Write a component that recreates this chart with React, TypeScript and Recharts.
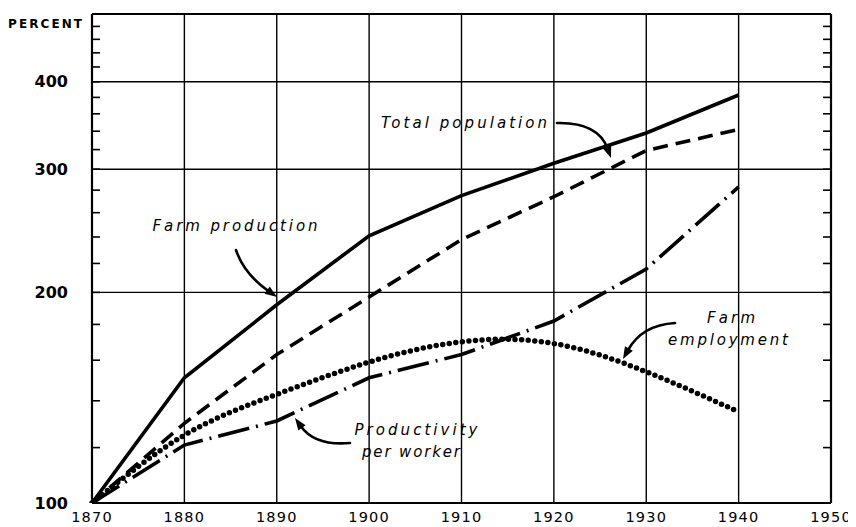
import React from "react";
import { LineChart, Line, XAxis, YAxis, ReferenceLine } from "recharts";

const years = [1870, 1880, 1890, 1900, 1910, 1920, 1930, 1940];
const farmProduction = [100, 151, 192, 241, 275, 306, 338, 383];
const totalPopulation = [100, 130, 163, 197, 238, 274, 319, 342];
const farmEmployment = [100, 125, 143, 159, 170, 169, 154, 135];
const productivity = [100, 121, 131, 151, 163, 182, 216, 283];

const xTicks = [1870, 1880, 1890, 1900, 1910, 1920, 1930, 1940, 1950];
const yMajor = [100, 200, 300, 400];
const yMinor = [100, 120, 140, 160, 180, 200, 220, 240, 260, 280, 300, 320, 340, 360, 380, 400, 420, 440, 460, 480, 500];

const data = years.map((year, i) => ({
  year,
  production: farmProduction[i],
  population: totalPopulation[i],
  employment: farmEmployment[i],
  productivity: productivity[i],
}));

const W = 848;
const H = 519;
const FONT = "'DejaVu Sans', sans-serif";

const LeftTick = (props: any) => {
  const { x, y, payload } = props;
  const v = payload.value;
  return (
    <g>
      <line x1={x} x2={x + 8} y1={y} y2={y} stroke="#000" strokeWidth={1.6} />
      {yMajor.includes(v) && (
        <text x={x - 24} y={y} textAnchor="end" dominantBaseline="central" fontFamily={FONT} fontWeight="bold" fontSize={16} fill="#000">
          {v}
        </text>
      )}
    </g>
  );
};

const RightTick = (props: any) => {
  const { x, y } = props;
  return <line x1={x - 8} x2={x} y1={y} y2={y} stroke="#000" strokeWidth={1.6} />;
};

const XTick = (props: any) => {
  const { x, y, payload } = props;
  return (
    <text x={x} y={y + 19} textAnchor="middle" fontFamily={FONT} fontSize={14.5} letterSpacing={1.2} fill="#000">
      {payload.value}
    </text>
  );
};

type Arrow = { sx: number; sy: number; cx: number; cy: number; ex: number; ey: number };
const arrows: Arrow[] = [
  { sx: 228, sy: 242, cx: 236, cy: 266, ex: 269, ey: 289 },
  { sx: 549, sy: 115, cx: 590, cy: 114, ex: 603, ey: 150 },
  { sx: 667, sy: 315, cx: 634, cy: 317, ex: 615, ey: 351 },
  { sx: 342, sy: 435, cx: 307, cy: 438, ex: 287, ey: 410 },
];

type Lbl = { text: string; x: number; y: number; len: number };
const labels: Lbl[] = [
  { text: "Farm production", x: 227, y: 223, len: 165 },
  { text: "Total population", x: 456, y: 120, len: 166 },
  { text: "Farm", x: 723, y: 315, len: 48 },
  { text: "employment", x: 720, y: 337, len: 120 },
  { text: "Productivity", x: 408, y: 427, len: 123 },
  { text: "per worker", x: 403, y: 449, len: 98 },
];

const ArrowPath = ({ a }: { a: Arrow }) => {
  const dx = a.ex - a.cx;
  const dy = a.ey - a.cy;
  const L = Math.sqrt(dx * dx + dy * dy);
  const ux = dx / L;
  const uy = dy / L;
  const len = 12;
  const hw = 4.5;
  const bx = a.ex - ux * len;
  const by = a.ey - uy * len;
  const p1 = `${bx - uy * hw},${by + ux * hw}`;
  const p2 = `${bx + uy * hw},${by - ux * hw}`;
  return (
    <g>
      <path d={`M${a.sx},${a.sy} Q${a.cx},${a.cy} ${bx + ux * 2},${by + uy * 2}`} fill="none" stroke="#000" strokeWidth={2.6} strokeLinecap="round" />
      <polygon points={`${a.ex},${a.ey} ${p1} ${p2}`} fill="#000" />
    </g>
  );
};

export default function App() {
  return (
    <div style={{ position: "relative", width: W, height: H, background: "#fff" }}>
      <LineChart width={W} height={H} data={data} margin={{ top: 6, right: 0, bottom: 0, left: 0 }}>
        <XAxis
          dataKey="year"
          type="number"
          domain={[1870, 1950]}
          ticks={xTicks}
          interval={0}
          height={24}
          tickSize={0}
          tickMargin={0}
          tickLine={false}
          axisLine={{ stroke: "#000", strokeWidth: 2.2 }}
          tick={<XTick />}
        />
        <YAxis
          yAxisId="left"
          type="number"
          scale="log"
          domain={[100, 500]}
          allowDataOverflow
          ticks={yMinor}
          interval={0}
          width={84}
          tickSize={0}
          tickMargin={0}
          tickLine={false}
          axisLine={{ stroke: "#000", strokeWidth: 2.2 }}
          tick={<LeftTick />}
        />
        <YAxis
          yAxisId="right"
          orientation="right"
          type="number"
          scale="log"
          domain={[100, 500]}
          allowDataOverflow
          ticks={yMinor}
          interval={0}
          width={25}
          tickSize={0}
          tickMargin={0}
          tickLine={false}
          axisLine={{ stroke: "#000", strokeWidth: 2.2 }}
          tick={<RightTick />}
        />
        {xTicks.slice(1, -1).map((t) => (
          <ReferenceLine key={"x" + t} x={t} yAxisId="left" stroke="#000" strokeWidth={1.4} />
        ))}
        {[200, 300, 400].map((t) => (
          <ReferenceLine key={"y" + t} y={t} yAxisId="left" stroke="#000" strokeWidth={1.4} />
        ))}
        <ReferenceLine y={500} yAxisId="left" stroke="#000" strokeWidth={2.2} />
        <Line yAxisId="left" dataKey="production" type="linear" stroke="#000" strokeWidth={3.6} dot={false} isAnimationActive={false} />
        <Line yAxisId="left" dataKey="population" type="linear" stroke="#000" strokeWidth={3.6} strokeDasharray="15 8" dot={false} isAnimationActive={false} />
        <Line yAxisId="left" dataKey="employment" type="natural" stroke="#000" strokeWidth={5.5} strokeDasharray="0 6.6" strokeLinecap="round" dot={false} isAnimationActive={false} />
        <Line yAxisId="left" dataKey="productivity" type="linear" stroke="#000" strokeWidth={3.6} strokeDasharray="32 7 2 7" dot={false} isAnimationActive={false} />
      </LineChart>
      <svg width={W} height={H} style={{ position: "absolute", left: 0, top: 0, pointerEvents: "none" }}>
        <text x={0} y={20} fontFamily={FONT} fontWeight="bold" fontSize={12} textLength={74} lengthAdjust="spacing" fill="#000">
          PERCENT
        </text>
        {labels.map((l) => (
          <text key={l.text} x={l.x - l.len / 2} y={l.y} fontFamily={FONT} fontStyle="italic" fontSize={15} textLength={l.len} lengthAdjust="spacing" fill="#000">
            {l.text}
          </text>
        ))}
        {arrows.map((a, i) => (
          <ArrowPath key={i} a={a} />
        ))}
      </svg>
    </div>
  );
}
